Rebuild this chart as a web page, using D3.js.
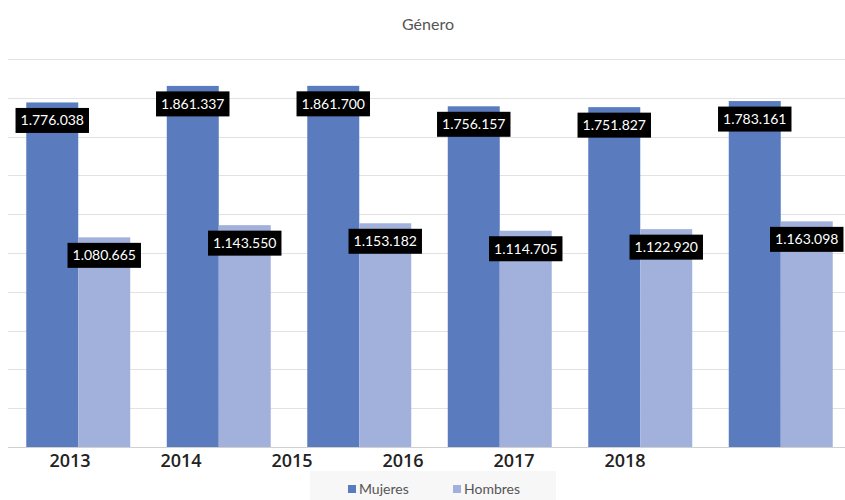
<!DOCTYPE html>
<html>
<head>
<meta charset="utf-8">
<script src="https://cdn.jsdelivr.net/npm/d3@7"></script>
<style>
  html, body { margin: 0; padding: 0; background: #fff; }
  svg { display: block; }
</style>
</head>
<body>
<svg id="chart" width="845" height="500"></svg>
<script>
const title = "Género";
const groups = ["g1", "g2", "g3", "g4", "g5", "g6"];
const tickLabels = ["2013", "2014", "2015", "2016", "2017", "2018"];
const seriesNames = ["Mujeres", "Hombres"];
const mujeres = [1776038, 1861337, 1861700, 1756157, 1751827, 1783161];
const hombres = [1080665, 1143550, 1153182, 1114705, 1122920, 1163098];
const gridValues = [0, 200000, 400000, 600000, 800000, 1000000, 1200000, 1400000, 1600000, 1800000, 2000000];

const colors = { Mujeres: "#5a7bbe", Hombres: "#a1b1db" };
const fmt = v => d3.format(",")(v).replace(/,/g, ".");

const svg = d3.select("#chart");
const W = 845;

const x = d3.scaleBand().domain(groups).range([8, 851]).paddingInner(0.26).paddingOuter(0.13);
const xs = d3.scaleBand().domain(seriesNames).range([0, x.bandwidth()]).padding(0);
const y = d3.scaleLinear().domain([0, 2000000]).range([447, 59]);
const xLab = d3.scalePoint().domain(tickLabels).range([70, 625]);

// Title
svg.append("text")
  .attr("x", 428).attr("y", 30)
  .attr("text-anchor", "middle")
  .attr("font-family", "Lato, 'Open Sans', sans-serif")
  .attr("font-size", 16)
  .attr("fill", "#555")
  .text(title);

// Gridlines
svg.append("g").selectAll("line").data(gridValues).join("line")
  .attr("x1", 8).attr("x2", W)
  .attr("y1", d => Math.round(y(d)) + 0.5).attr("y2", d => Math.round(y(d)) + 0.5)
  .attr("stroke", d => d === 0 ? "#d0d0d0" : "#e2e2e2")
  .attr("stroke-width", 1);

const rows = groups.map((g, i) => ({ g, Mujeres: mujeres[i], Hombres: hombres[i] }));

// Bars
const gg = svg.append("g").selectAll("g").data(rows).join("g")
  .attr("transform", d => `translate(${x(d.g)},0)`);
gg.selectAll("rect").data(d => seriesNames.map(s => ({ s, v: d[s] }))).join("rect")
  .attr("x", d => xs(d.s))
  .attr("width", xs.bandwidth())
  .attr("y", d => y(d.v))
  .attr("height", d => y(0) - y(d.v))
  .attr("fill", d => colors[d.s]);

// Data labels
const labels = [];
rows.forEach(r => seriesNames.forEach(s => labels.push({ g: r.g, s, v: r[s] })));
const lg = svg.append("g").selectAll("g").data(labels).join("g")
  .attr("transform", d => `translate(${x(d.g) + xs(d.s) + xs.bandwidth() / 2},${y(d.v) + 18})`);
const rects = lg.append("rect").attr("fill", "#000");
const texts = lg.append("text")
  .attr("text-anchor", "middle")
  .attr("dy", "0.36em")
  .attr("font-family", "Lato, 'Open Sans', sans-serif")
  .attr("font-size", 14)
  .attr("fill", "#fff")
  .text(d => fmt(d.v));
texts.each(function () {
  const bb = this.getBBox();
  d3.select(this.parentNode).select("rect")
    .attr("x", -bb.width / 2 - 5).attr("width", bb.width + 10)
    .attr("y", -12.5).attr("height", 25);
});

// X tick labels
svg.append("g").selectAll("text").data(tickLabels).join("text")
  .attr("x", d => xLab(d)).attr("y", 467)
  .attr("text-anchor", "middle")
  .attr("font-family", "'Open Sans', Lato, sans-serif")
  .attr("font-size", 18)
  .attr("font-weight", 600)
  .attr("fill", "#222")
  .text(d => d);

// Legend
svg.append("rect").attr("x", 310).attr("y", 471).attr("width", 246).attr("height", 29).attr("fill", "#f7f7f7");
const legX = { Mujeres: 348, Hombres: 453 };
const leg = svg.append("g").selectAll("g").data(seriesNames).join("g")
  .attr("transform", d => `translate(${legX[d]},485)`);
leg.append("rect").attr("width", 8).attr("height", 8).attr("fill", d => colors[d]);
leg.append("text").attr("x", 11).attr("y", 8.5)
  .attr("font-family", "Lato, 'Open Sans', sans-serif")
  .attr("font-size", 14)
  .attr("fill", "#555")
  .text(d => d);
</script>
</body>
</html>
